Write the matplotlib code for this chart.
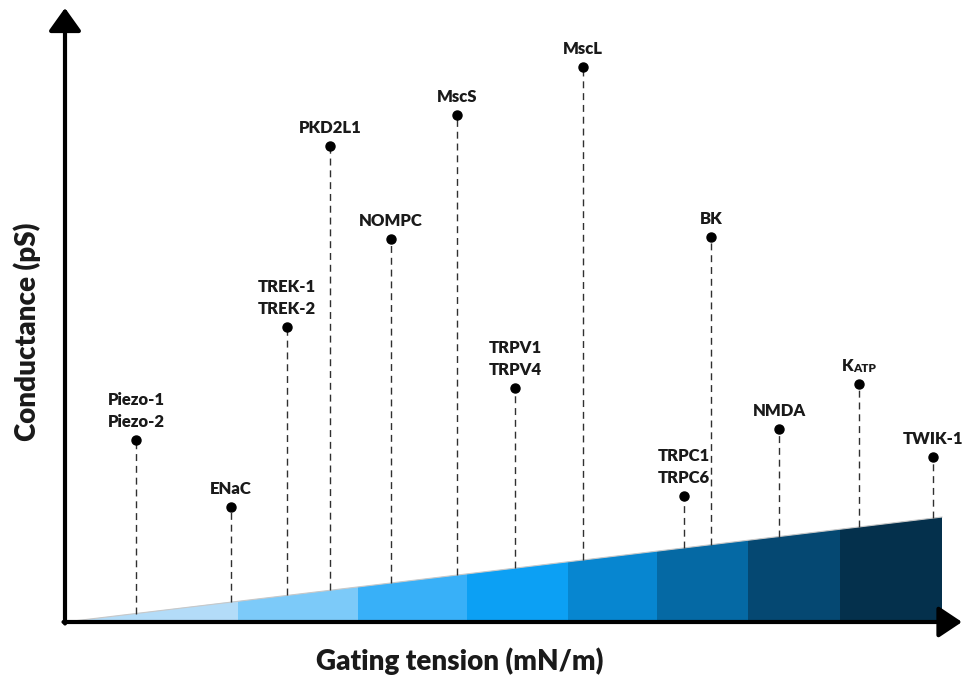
import matplotlib
matplotlib.use('Agg')
import matplotlib.pyplot as plt
from matplotlib.patches import Polygon

plt.rcParams['font.family'] = ['Lato', 'DejaVu Sans']

# channels, gating tension (x) and conductance (y), arbitrary units
channels = ['Piezo-1\nPiezo-2', 'ENaC', 'TREK-1\nTREK-2', 'PKD2L1', 'NOMPC', 'MscS',
            'TRPV1\nTRPV4', 'MscL', 'TRPC1\nTRPC6', 'BK', 'NMDA', 'KATP', 'TWIK-1']
tension = [71, 166, 222, 265, 326, 392, 450, 518, 619, 646, 714, 794, 868]
conductance = [182, 115, 295, 476, 383, 507, 234, 555, 126, 385, 193, 238, 165]

# colour bands of the tension wedge
band_edges = [0, 173, 293, 402, 503, 592, 683, 775, 877]
band_colors = ['#b3dcf8', '#7ccaf9', '#38b0f8', '#0ca0f4', '#0786d0',
               '#0569a4', '#054872', '#04304c']
wedge_slope = 0.1197

fig = plt.figure(figsize=(9.72, 6.81), dpi=100)
ax = fig.add_axes([0, 0, 1, 1])
ax.set_xlim(-65, 907)
ax.set_ylim(-59, 622)
ax.axis('off')

# wedge
for x0, x1, c in zip(band_edges[:-1], band_edges[1:], band_colors):
    poly = Polygon([(x0, 0), (x1, 0), (x1, x1 * wedge_slope), (x0, x0 * wedge_slope)],
                   closed=True, facecolor=c, edgecolor='none', zorder=1)
    ax.add_patch(poly)
ax.plot([0, band_edges[-1]], [0, band_edges[-1] * wedge_slope], color='#c8c8c8', lw=0.8, zorder=2)

# axes with arrows
ax.annotate('', xy=(897, 0), xytext=(-1.5, 0),
            arrowprops=dict(arrowstyle='-|>,head_length=0.75,head_width=0.5', lw=3,
                            color='black', mutation_scale=19, shrinkA=0, shrinkB=0), zorder=5)
ax.annotate('', xy=(0, 614), xytext=(0, -1.5),
            arrowprops=dict(arrowstyle='-|>,head_length=0.7,head_width=0.5', lw=3,
                            color='black', mutation_scale=20, shrinkA=0, shrinkB=0), zorder=5)

# channels
txt = dict(fontweight='heavy', color='#1a1a1a')
for name, x, y in zip(channels, tension, conductance):
    ax.plot([x, x], [x * wedge_slope, y], ls=(0, (5, 3.5)), color='#303030', lw=1, zorder=3)
    ax.plot(x, y, 'o', color='black', ms=6.5, zorder=4)
    if name == 'KATP':
        ax.annotate('K', (x, y), xytext=(-4, 7), textcoords='offset points',
                    ha='right', va='bottom', fontsize=12, **txt)
        ax.annotate('ATP', (x, y), xytext=(-4, 7), textcoords='offset points',
                    ha='left', va='bottom', fontsize=8.5, **txt)
        continue
    ax.annotate(name, (x, y), xytext=(0, 7), textcoords='offset points', ha='center',
                va='bottom', fontsize=12, linespacing=1.45, **txt)

ax.text(395, -39, 'Gating tension (mN/m)', ha='center', va='center', fontsize=20, **txt)
ax.text(-38, 290, 'Conductance (pS)', ha='center', va='center', rotation=90, fontsize=20, **txt)

fig.savefig('out.png', dpi=100)
